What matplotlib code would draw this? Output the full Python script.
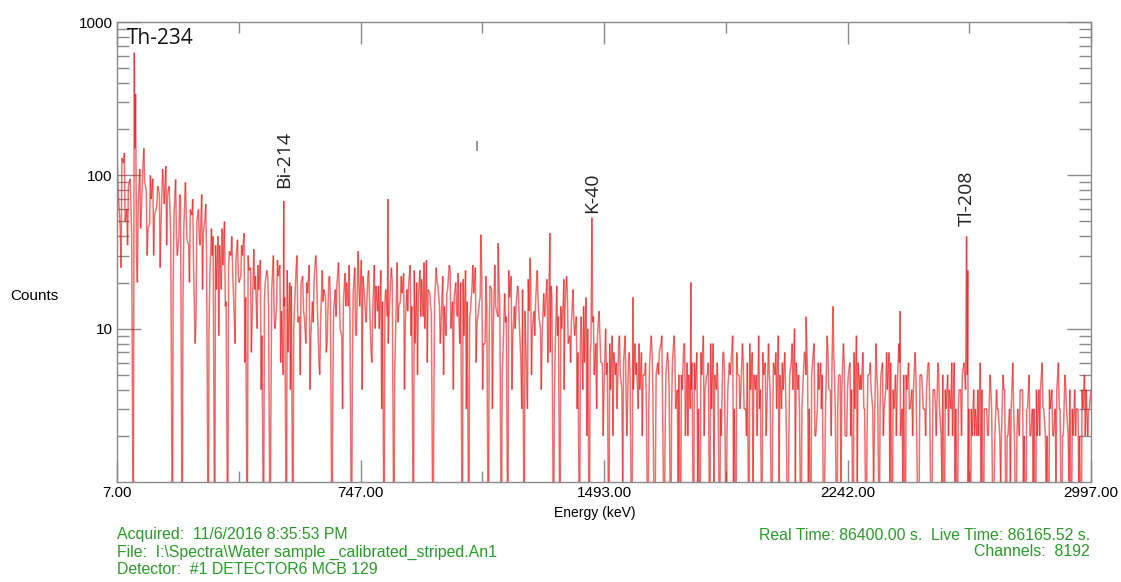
import numpy as np
import matplotlib
matplotlib.use("Agg")
import matplotlib.pyplot as plt
from matplotlib.collections import LineCollection
from matplotlib.ticker import FixedLocator, NullFormatter, LogLocator

# continuum read off the spectrum display, three interleaved channel sets:
# "a" at 7, 17, 27 ... keV, "c" at 9.5, 19.5 ... keV, "b" at 12, 22 ... keV
E_STEP = 10

counts_a_low = [  # 7 - 997 keV
    160, 45, 120, 60, 95, 0, 30, 110, 120, 80,
    48, 95, 60, 75, 110, 115, 85, 0, 94, 40,
    0, 90, 35, 55, 8, 60, 75, 52, 0, 45,
    0, 40, 18, 50, 0, 30, 12, 38, 22, 42,
    0, 25, 33, 10, 28, 0, 24, 0, 30, 14,
    26, 5, 0, 20, 0, 25, 12, 22, 8, 26,
    15, 30, 6, 24, 16, 21, 0, 18, 27, 9,
    23, 14, 0, 25, 32, 28, 16, 22, 7, 26,
    13, 24, 0, 12, 21, 0, 27, 15, 23, 18,
    26, 0, 20, 24, 12, 28, 17, 0, 25, 14,
]
counts_a_mid = [  # 1007 - 1997 keV
    22, 9, 26, 15, 20, 11, 0, 24, 0, 19,
    25, 13, 21, 8, 0, 18, 26, 12, 0, 17,
    0, 22, 14, 19, 6, 0, 3, 20, 13, 24,
    10, 17, 21, 7, 0, 19, 0, 15, 22, 9,
    18, 12, 0, 4, 16, 0, 11, 8, 13, 6,
    10, 0, 9, 5, 8, 4, 9, 6, 0, 8,
    3, 7, 5, 0, 9, 0, 6, 8, 0, 7,
    0, 9, 4, 0, 8, 6, 3, 0, 7, 0,
    9, 5, 0, 8, 4, 0, 7, 0, 6, 9,
    0, 5, 8, 3, 0, 7, 4, 9, 0, 6,
]
counts_a_high = [  # 2007 - 2997 keV
    8, 0, 5, 9, 3, 7, 0, 6, 10, 4,
    0, 7, 5, 0, 8, 3, 6, 0, 9, 4,
    7, 0, 5, 8, 2, 6, 0, 9, 4, 7,
    0, 5, 3, 8, 0, 6, 4, 7, 0, 5,
    8, 3, 0, 6, 4, 7, 0, 5, 3, 6,
    0, 4, 6, 2, 0, 5, 3, 6, 0, 4,
    6, 5, 0, 4, 2, 6, 0, 3, 5, 0,
    4, 2, 5, 0, 3, 6, 0, 2, 4, 0,
    5, 3, 0, 4, 6, 2, 0, 4, 3, 6,
    0, 5, 2, 0, 4, 3, 0, 5, 2, 4,
]

counts_b_low = [  # 12 - 1002 keV
    70, 130, 50, 85, 40, 150, 65, 60, 90, 45,
    70, 55, 85, 48, 65, 75, 40, 55, 30, 70,
    45, 38, 60, 25, 50, 35, 42, 30, 22, 40,
    18, 35, 26, 15, 32, 24, 28, 20, 30, 16,
    24, 12, 22, 18, 9, 20, 15, 18, 10, 22,
    13, 16, 7, 19, 14, 11, 20, 12, 17, 9,
    21, 14, 11, 18, 8, 16, 13, 19, 10, 15,
    20, 12, 17, 9, 14, 22, 11, 16, 13, 19,
    10, 15, 18, 12, 20, 9, 14, 17, 11, 19,
    14, 8, 16, 21, 10, 18, 13, 15, 19, 11,
]
counts_b_mid = [  # 1012 - 2002 keV
    14, 18, 10, 16, 12, 20, 9, 15, 13, 17,
    11, 16, 8, 14, 19, 10, 13, 15, 7, 12,
    16, 9, 14, 11, 18, 8, 13, 10, 15, 12,
    9, 14, 11, 16, 7, 12, 10, 13, 8, 11,
    9, 7, 12, 6, 10, 8, 5, 9, 6, 4,
    6, 4, 7, 3, 5, 6, 2, 5, 4, 6,
    4, 5, 3, 6, 4, 5, 7, 3, 5, 4,
    6, 3, 5, 4, 2, 5, 6, 4, 3, 5,
    4, 6, 3, 5, 4, 2, 5, 4, 6, 3,
    5, 4, 3, 6, 4, 5, 2, 4, 5, 3,
]
counts_b_high = [  # 2012 - 2992 keV
    4, 6, 3, 5, 4, 2, 5, 4, 6, 3,
    4, 5, 3, 6, 2, 4, 5, 3, 4, 6,
    3, 5, 4, 2, 5, 4, 3, 6, 4, 3,
    5, 4, 2, 4, 5, 3, 4, 6, 3, 4,
    2, 5, 4, 3, 4, 2, 5, 3, 4, 3,
    4, 2, 3, 5, 3, 4, 2, 3, 4, 5,
    4, 3, 2, 3, 2, 4, 3, 2, 3, 2,
    3, 2, 4, 2, 3, 2, 3, 4, 2, 3,
    2, 3, 2, 4, 3, 2, 3, 2, 4, 3,
    2, 3, 4, 2, 3, 2, 3, 4, 3,
]

counts_c_low = [  # 9.5 - 999.5 keV
    90, 25, 140, 35, 70, 200, 20, 45, 150, 30,
    100, 30, 65, 25, 90, 35, 60, 20, 40, 75,
    15, 55, 20, 70, 12, 40, 18, 65, 10, 30,
    35, 9, 45, 14, 25, 40, 8, 22, 35, 6,
    30, 7, 18, 26, 4, 15, 22, 3, 12, 28,
    6, 14, 24, 4, 10, 30, 5, 13, 20, 4,
    11, 25, 5, 15, 7, 22, 4, 12, 18, 3,
    14, 26, 5, 9, 20, 4, 13, 24, 6, 10,
    19, 3, 15, 8, 25, 5, 11, 22, 4, 13,
    9, 24, 5, 12, 27, 6, 14, 3, 20, 8,
]
counts_c_mid = [  # 1009.5 - 1999.5 keV
    5, 17, 24, 4, 13, 8, 21, 3, 12, 26,
    6, 15, 4, 22, 9, 3, 14, 20, 5, 11,
    24, 4, 10, 17, 3, 13, 21, 5, 9, 16,
    4, 12, 6, 19, 3, 9, 14, 4, 17, 6,
    11, 3, 8, 14, 2, 7, 12, 3, 9, 2,
    5, 8, 2, 6, 9, 1, 4, 7, 2, 5,
    8, 2, 6, 3, 7, 1, 5, 9, 2, 6,
    3, 7, 1, 5, 8, 2, 4, 6, 1, 7,
    2, 5, 8, 1, 6, 3, 7, 2, 5, 1,
    7, 3, 6, 2, 8, 1, 5, 3, 7, 2,
]
counts_c_high = [  # 2009.5 - 2989.5 keV
    5, 2, 7, 1, 6, 4, 2, 8, 1, 5,
    3, 7, 1, 5, 2, 6, 3, 1, 7, 2,
    5, 3, 1, 6, 4, 2, 7, 1, 5, 3,
    2, 6, 1, 5, 3, 2, 7, 1, 4, 2,
    6, 1, 5, 3, 2, 5, 1, 4, 2, 6,
    1, 3, 5, 1, 4, 2, 6, 1, 3, 2,
    5, 1, 3, 2, 4, 1, 3, 2, 4, 1,
    3, 1, 4, 2, 1, 3, 2, 4, 1, 3,
    2, 1, 4, 2, 3, 1, 4, 2, 1, 3,
    2, 4, 1, 3, 2, 1, 4, 2, 3,
]

# single-channel spikes standing above the continuum
peak_keV = [60, 64, 519, 839, 1054, 1124, 1177, 1275, 1336, 1379,
            1465, 1591, 1769, 2122, 2205, 2411, 2615, 2619]
peak_counts = [630, 340, 68, 70, 23, 41, 36, 29, 42, 21,
               53, 16, 20, 12, 14, 13, 40, 24]

# labelled lines
label_names = ["Bi-214", "K-40", "Tl-208"]
label_keV = [519, 1465, 2615]
label_counts = [68, 53, 40]

xtick_labels = ["7.00", "747.00", "1493.00", "2242.00", "2997.00"]

counts_a = counts_a_low + counts_a_mid + counts_a_high
counts_b = counts_b_low + counts_b_mid + counts_b_high
counts_c = counts_c_low + counts_c_mid + counts_c_high
keV_a = [7 + E_STEP * i for i in range(len(counts_a))]
keV_b = [12 + E_STEP * i for i in range(len(counts_b))]
keV_c = [9.5 + E_STEP * i for i in range(len(counts_c))]

energy = np.array(keV_a + keV_b + keV_c + peak_keV, dtype=float)
counts = np.array(counts_a + counts_b + counts_c + peak_counts, dtype=float)
order = np.argsort(energy, kind="stable")
energy = energy[order]
# empty channels are drawn down to below the floor of the log axis
counts = np.clip(counts[order], 0.3, None)

plt.rcParams["font.family"] = ["Liberation Sans", "DejaVu Sans"]

fig = plt.figure(figsize=(11.21, 5.82), dpi=100)
ax = fig.add_axes([117 / 1121, 1 - 482 / 582, 974 / 1121, 460 / 582])

ax.set_yscale("log")
ax.set_xlim(7, 2997)
ax.set_ylim(1, 1000)

# each channel-to-channel step as its own segment so overlaps build up darker
pts = np.column_stack([energy, counts])
segs = np.stack([pts[:-1], pts[1:]], axis=1)
lc = LineCollection(segs, colors="#e81a1a", linewidths=1.1, alpha=0.62)
ax.add_collection(lc)

for s in ax.spines.values():
    s.set_color("#8a8a8a")
    s.set_linewidth(1.0)

xmaj = np.linspace(7, 2997, 5)
xmin = np.linspace(7, 2997, 9)
ax.xaxis.set_major_locator(FixedLocator(xmaj))
ax.xaxis.set_minor_locator(FixedLocator(xmin))
ax.set_xticklabels(xtick_labels)
ax.yaxis.set_major_locator(FixedLocator([10, 100, 1000]))
ax.set_yticklabels(["10", "100", "1000"])
ax.yaxis.set_minor_locator(LogLocator(base=10, subs=np.arange(2, 10)))
ax.yaxis.set_minor_formatter(NullFormatter())

ax.tick_params(which="both", direction="in", top=True, right=True,
               color="#8a8a8a", width=1.0, labelsize=11, pad=3)
ax.tick_params(axis="x", which="major", length=15.5)
ax.tick_params(axis="x", which="minor", length=8)
ax.tick_params(axis="y", which="major", length=17)
ax.tick_params(axis="y", which="minor", length=8.5)

# small cursor mark
ax.plot([1112, 1112], [147, 166], color="#9a9a9a", lw=1.5)

# nuclide labels
ax.text(38, 776, "Th-234", fontsize=15, family="Open Sans", color="#111111",
        ha="left", va="center")
gaps = [13, 5, 10]
for name, e, c, g in zip(label_names, label_keV, label_counts, gaps):
    ax.annotate(name, xy=(e, c), xytext=(0, g * 0.72), textcoords="offset points",
                rotation=90, ha="center", va="bottom", fontsize=14,
                family="Open Sans", color="#222222")

fig.text(10 / 1121, 1 - 296 / 582, "Counts", fontsize=11, ha="left", va="center")
fig.text(595 / 1121, 1 - 513 / 582, "Energy (keV)", fontsize=10, ha="center", va="center")

green = "#2a9a2a"
fs = 11.4
fig.text(117 / 1121, 1 - 535 / 582, "Acquired:  11/6/2016 8:35:53 PM",
         color=green, fontsize=fs, ha="left", va="center")
fig.text(117 / 1121, 1 - 552 / 582, "File:  I:\\Spectra\\Water sample _calibrated_striped.An1",
         color=green, fontsize=fs, ha="left", va="center")
fig.text(117 / 1121, 1 - 570 / 582, "Detector:  #1 DETECTOR6 MCB 129",
         color=green, fontsize=fs, ha="left", va="center")
fig.text(1090 / 1121, 1 - 535 / 582, "Real Time: 86400.00 s.  Live Time: 86165.52 s.",
         color=green, fontsize=fs, ha="right", va="center")
fig.text(1090 / 1121, 1 - 552 / 582, "Channels:  8192",
         color=green, fontsize=fs, ha="right", va="center")

fig.savefig("out.png", dpi=100)
